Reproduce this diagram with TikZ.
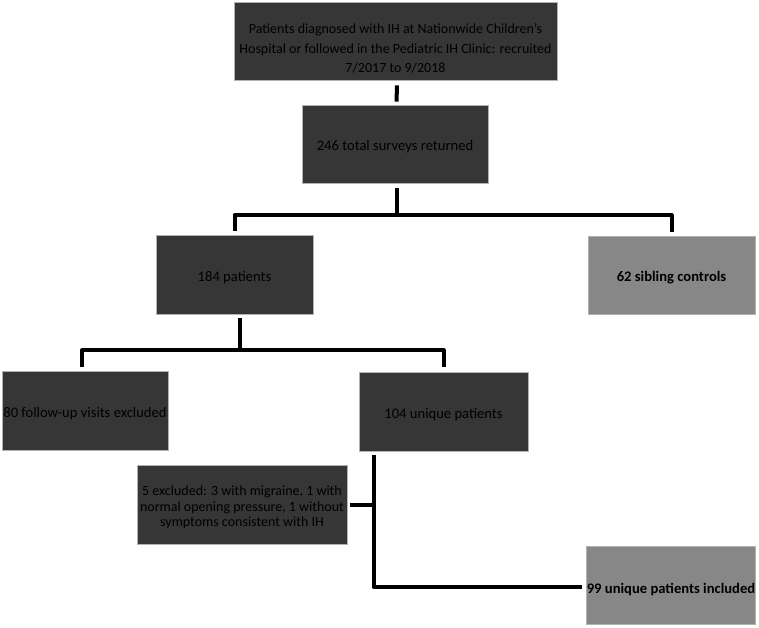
\documentclass[tikz,border=0pt]{standalone}
\usepackage{fontspec}
\setmainfont{Carlito}
\begin{document}
\begin{tikzpicture}[x=1pt,y=-1pt,
  base/.style={rectangle, draw=black!30, line width=0.8pt, inner sep=0pt, align=center, text=black},
  one/.style={text height=16pt, text depth=3pt},
  dbox/.style={base, fill=black!79, font=\fontsize{14.6}{16}\selectfont},
  lbox/.style={base, fill=black!47, font=\bfseries\fontsize{14.6}{16}\selectfont},
  conn/.style={line width=4pt, line join=round, draw=black}]
\useasboundingbox (0,0) rectangle (759,627);
\node[dbox, minimum width=323pt, minimum height=78pt, font=\fontsize{14}{19.5}\selectfont] (top) at (395.5,41)
  {\rule{0pt}{25pt}Patients diagnosed with IH at Nationwide Children’s\\Hospital or followed in the Pediatric IH Clinic: recruited\\7/2017 to 9/2018};
\node[dbox, one, minimum width=186pt, minimum height=78pt] (tot) at (395,144) {246 total surveys returned};
\node[dbox, one, minimum width=157pt, minimum height=79pt] (pat) at (234.5,274.5) {184 patients};
\node[lbox, one, minimum width=167pt, minimum height=78pt] (sib) at (671.5,275) {62 sibling controls};
\node[dbox, one, minimum width=166pt, minimum height=79pt] (fu) at (85,410.5) {80 follow-up visits excluded};
\node[dbox, one, minimum width=169pt, minimum height=79pt] (uni) at (443.5,411.5) {104 unique patients};
\node[dbox, minimum width=210pt, minimum height=79pt, font=\fontsize{14}{15.5}\selectfont] (exc) at (242,504.5)
  {\rule{0pt}{16pt}5 excluded: 3 with migraine, 1 with\\normal opening pressure, 1 without\\symptoms consistent with IH};
\node[lbox, minimum width=168pt, minimum height=78pt, text height=20pt, text depth=3pt] (inc) at (671,585) {99 unique patients included};
% connectors
\draw[conn] ([xshift=1.5pt,yshift=-5pt]top.south) -- ([xshift=1.5pt,yshift=3pt]tot.north);
\draw[conn] ([xshift=2pt,yshift=-5pt]tot.south) -- ++(0,27) coordinate (j1);
\draw[conn] ([yshift=4pt]pat.north) |- (j1) -| ([yshift=4pt]sib.north);
\draw[conn] ([xshift=5.5pt,yshift=-4pt]pat.south) -- ++(0,32) coordinate (j2);
\draw[conn] ([xshift=-3pt,yshift=4pt]fu.north) |- (j2) -| ([yshift=5pt]uni.north);
\draw[conn] ([xshift=15pt,yshift=-4pt]uni.south west) coordinate (v) |- ([yshift=-2pt,xshift=-4pt]inc.west);
\draw[conn] ([xshift=3pt]exc.east) -- (exc.east -| v);
\end{tikzpicture}
\end{document}
